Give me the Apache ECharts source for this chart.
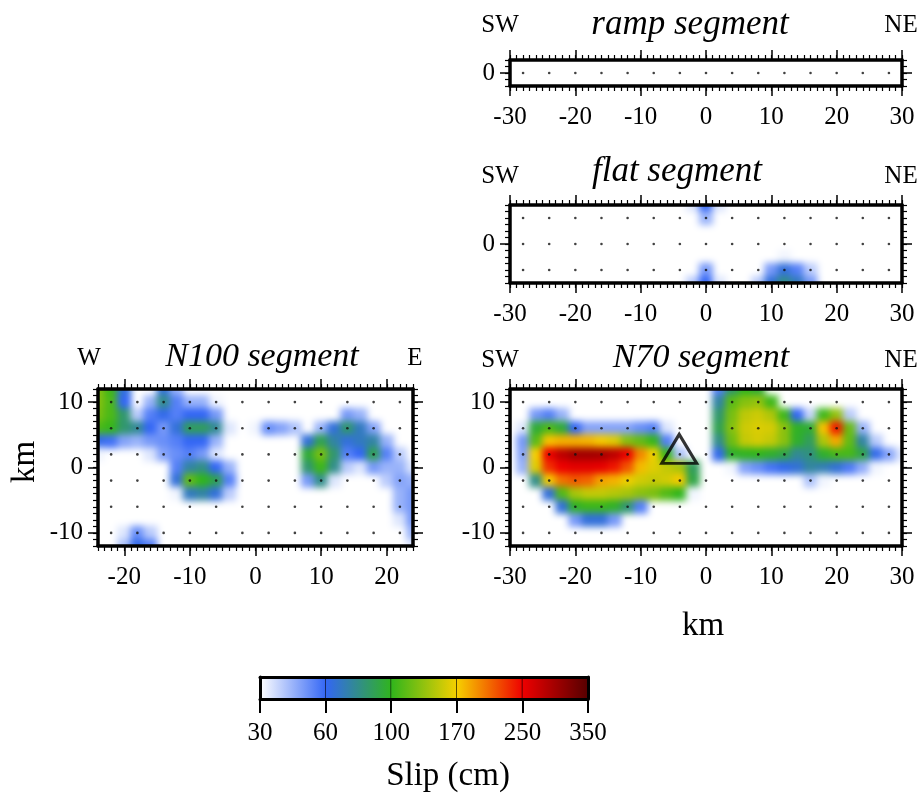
<!DOCTYPE html>
<html><head><meta charset="utf-8">
<script src="https://cdn.jsdelivr.net/npm/echarts@6/dist/echarts.min.js"></script>
<style>html,body{margin:0;padding:0;background:#fff}#c{width:920px;height:797px}</style>
</head><body><div id="c"></div>
<script>
// ---------------- DATA (slip in cm on a 2 km grid) ----------------
const levelValues = [30, 60, 100, 170, 250, 350];
const levelColors = ['#ffffff', '#3366f5', '#30b51c', '#f6d000', '#ee0000', '#550000'];
const colorTickLabels = ['30', '60', '100', '170', '250', '350'];

const gridX60 = [-30,-28,-26,-24,-22,-20,-18,-16,-14,-12,-10,-8,-6,-4,-2,0,2,4,6,8,10,12,14,16,18,20,22,24,26,28,30];
const gridX48 = [-24,-22,-20,-18,-16,-14,-12,-10,-8,-6,-4,-2,0,2,4,6,8,10,12,14,16,18,20,22,24];
const gridY24 = [12,10,8,6,4,2,0,-2,-4,-6,-8,-10,-12];
const gridY12 = [6,4,2,0,-2,-4,-6];
const gridY4 = [2,0,-2];

const rampSlip = [
  [0,0,0,0,0,0,0,0,0,0,0,0,0,0,0,0,0,0,0,0,0,0,0,0,0,0,0,0,0,0,0],
  [0,0,0,0,0,0,0,0,0,0,0,0,0,0,0,0,0,0,0,0,0,0,0,0,0,0,0,0,0,0,0],
  [0,0,0,0,0,0,0,0,0,0,0,0,0,0,0,0,0,0,0,0,0,0,0,0,0,0,0,0,0,0,0]
];
const flatSlip = [
  [0,0,0,0,0,0,0,0,0,0,0,0,0,0,35,60,35,0,0,0,0,0,0,0,0,0,0,0,0,0,0],
  [0,0,0,0,0,0,0,0,0,0,0,0,0,0,15,45,15,0,0,0,0,0,0,0,0,0,0,0,0,0,0],
  [0,0,0,0,0,0,0,0,0,0,0,0,0,0,0,10,0,0,0,0,0,0,0,0,0,0,0,0,0,0,0],
  [0,0,0,0,0,0,0,0,0,0,0,0,0,0,0,0,0,0,0,0,0,0,0,0,0,0,0,0,0,0,0],
  [0,0,0,0,0,0,0,0,0,0,0,0,0,0,0,12,0,0,0,0,18,32,22,0,0,0,0,0,0,0,0],
  [0,0,0,0,0,0,0,0,0,0,0,0,0,0,25,50,25,0,0,20,50,65,55,40,12,0,0,0,0,0,0],
  [0,0,0,0,0,0,0,0,0,0,0,0,0,20,40,60,35,0,8,40,65,80,70,50,30,0,0,0,0,0,0]
];
const n70Slip = [
  [0,0,0,0,0,0,0,0,0,0,0,0,0,0,0,15,55,85,100,95,30,0,0,0,0,0,0,0,0,0,0],
  [0,0,10,18,8,0,0,0,0,0,0,0,0,0,0,20,75,115,130,135,105,30,15,15,28,25,10,0,0,0,0],
  [0,20,50,55,45,20,12,12,12,12,15,18,12,0,0,25,85,125,150,155,145,105,60,38,105,135,40,0,0,0,0],
  [0,35,95,110,95,60,48,48,48,48,52,55,35,8,0,25,90,130,155,160,158,132,98,95,175,240,120,45,5,0,0],
  [0,50,115,175,182,182,180,172,162,130,118,102,55,18,0,18,80,122,152,158,152,132,97,88,145,185,118,75,40,8,0],
  [8,48,170,252,282,300,300,297,282,252,198,168,102,42,12,18,62,97,99,100,97,92,78,82,97,108,108,92,62,48,35],
  [0,45,162,232,250,257,257,254,242,218,178,162,152,142,88,18,15,32,48,52,57,62,66,76,72,66,56,46,32,18,8],
  [0,15,80,172,206,216,212,188,182,167,157,152,157,172,92,22,0,0,0,0,0,8,28,42,32,18,0,0,0,0,0],
  [0,0,28,65,112,142,152,152,147,142,132,127,112,100,32,0,0,0,0,0,0,0,0,12,0,0,0,0,0,0,0],
  [0,0,0,22,65,98,104,104,98,84,55,25,12,0,0,0,0,0,0,0,0,0,0,0,0,0,0,0,0,0,0],
  [0,0,0,0,25,50,65,65,50,25,0,0,0,0,0,0,0,0,0,0,0,0,0,0,0,0,0,0,0,0,0],
  [0,0,0,0,0,5,15,12,5,0,0,0,0,0,0,0,0,0,0,0,0,0,0,0,0,0,0,0,0,0,0],
  [0,0,0,0,0,0,0,0,0,0,0,0,0,0,0,0,0,0,0,0,0,0,0,0,0,0,0,0,0,0,0]
];
const n100Slip = [
  [130,105,65,10,22,65,45,28,0,0,0,0,0,0,0,0,0,0,0,0,0,0,0,0,0],
  [130,110,60,18,45,80,55,45,45,32,8,0,0,0,0,0,0,0,0,12,12,0,0,0,0],
  [125,110,85,40,55,62,55,60,60,50,28,0,0,18,18,0,0,12,28,50,45,22,0,0,0],
  [110,102,85,78,60,50,65,88,88,78,35,0,32,52,48,42,28,45,65,85,70,48,28,8,0],
  [62,58,48,45,50,52,55,60,60,45,28,0,0,0,8,22,65,90,75,65,70,75,45,18,0],
  [32,28,25,25,35,48,52,55,50,35,12,0,0,0,0,22,95,125,85,55,60,90,55,40,25],
  [0,0,0,0,0,22,55,75,80,60,45,22,0,0,0,22,85,105,80,40,35,50,45,45,35],
  [0,0,0,0,0,18,65,118,100,90,55,28,0,0,0,0,50,80,35,8,0,18,40,48,45],
  [0,0,0,0,0,0,32,70,75,65,40,8,0,0,0,0,12,12,0,0,0,0,22,45,50],
  [0,0,0,0,0,0,0,18,22,18,0,0,0,0,0,0,0,0,0,0,0,0,8,45,50],
  [0,0,5,20,15,0,0,0,0,0,0,0,0,0,0,0,0,0,0,0,0,0,0,35,50],
  [0,5,35,52,40,8,0,0,0,0,0,0,0,0,0,0,0,0,0,0,0,0,0,15,45],
  [0,10,42,62,55,15,0,0,0,0,0,0,0,0,0,0,0,0,0,0,0,0,0,0,35]
];
// subfault nodes (black dots)
const nodeX60 = [-28,-24,-20,-16,-12,-8,-4,0,4,8,12,16,20,24,28];
const nodeX48 = [-22,-18,-14,-10,-6,-2,2,6,10,14,18,22];
const nodeY24 = [10,6,2,-2,-6,-10];
const nodeY12 = [4,0,-4];
const nodeY4 = [0];
// triangle marker on N70 segment
const markX = [-4.1];
const markY = [2.85];

// ---------------- helpers ----------------
function hexToRgb(h){return [parseInt(h.slice(1,3),16),parseInt(h.slice(3,5),16),parseInt(h.slice(5,7),16)];}
const levelRgb = levelColors.map(hexToRgb);
function slipColor(v){
  if (v <= levelValues[0]) return '#ffffff';
  for (let i = 0; i < levelValues.length - 1; i++) {
    if (v <= levelValues[i+1]) {
      const t = (v - levelValues[i]) / (levelValues[i+1] - levelValues[i]);
      const a = levelRgb[i], b = levelRgb[i+1];
      return 'rgb(' + a.map((c,k)=>Math.round(c + (b[k]-c)*t)).join(',') + ')';
    }
  }
  return levelColors[levelColors.length-1];
}
function toCells(rows, xs, ys){
  const out = [];
  rows.forEach((row, j) => row.forEach((v, i) => out.push([xs[i], ys[j], v])));
  return out;
}
function toNodes(xs, ys){
  const out = [];
  ys.forEach(y => xs.forEach(x => out.push([x, y])));
  return out;
}

const FONT = 'Liberation Serif';
const panels = [
  {slip: rampSlip, xs: gridX60, ys: gridY4, nx: nodeX60, ny: nodeY4, xr:[-30,30], yr:[-2,2], xMaj:[-30,-20,-10,0,10,20,30], yMaj:[0], left:510, top:60, width:392, height:26},
  {slip: flatSlip, xs: gridX60, ys: gridY12, nx: nodeX60, ny: nodeY12, xr:[-30,30], yr:[-6,6], xMaj:[-30,-20,-10,0,10,20,30], yMaj:[0], left:510, top:205, width:392, height:78},
  {slip: n100Slip, xs: gridX48, ys: gridY24, nx: nodeX48, ny: nodeY24, xr:[-24,24], yr:[-12,12], xMaj:[-20,-10,0,10,20], yMaj:[-10,0,10], left:98, top:389, width:315, height:157},
  {slip: n70Slip, xs: gridX60, ys: gridY24, nx: nodeX60, ny: nodeY24, xr:[-30,30], yr:[-12,12], xMaj:[-30,-20,-10,0,10,20,30], yMaj:[-10,0,10], left:510, top:389, width:392, height:157}
];

const grids = [], xAxes = [], yAxes = [], series = [];
function makeAxes(dim, gi, range, majors){
  const sides = dim === 'x' ? ['bottom','top'] : ['left','right'];
  const out = [];
  sides.forEach((pos, si) => {
    out.push({type:'value', gridIndex:gi, position:pos, min:range[0], max:range[1], interval:1, zlevel:1,
      axisLine:{show:true, onZero:false, lineStyle:{color:'#000', width:3.5}},
      axisTick:{show:true, inside:false, length:5, lineStyle:{color:'#000', width:1.2}},
      axisLabel:{show:false}, splitLine:{show:false}, z:6});
    out.push({type:'value', gridIndex:gi, position:pos, min:range[0], max:range[1], zlevel:1,
      axisLine:{show:false, onZero:false},
      axisTick:{show:true, inside:false, length:10, customValues:majors, lineStyle:{color:'#000', width:1.5}},
      axisLabel:{show: si === 0, customValues:majors, margin: dim === 'x' ? 19 : 15,
        fontFamily:FONT, fontSize:25, color:'#000', formatter: v => String(v)},
      splitLine:{show:false}, z:6});
  });
  return out;
}

function makeCellRenderer(p){
  return function(params, api){
    const x = api.value(0), y = api.value(1), v = api.value(2);
    if (!(v > levelValues[0])) return null;
    // cells on the frame are stretched outward so the soft edge stays inside the frame
    const x0 = x === p.xr[0] ? x - 3 : x - 1;
    const x1 = x === p.xr[1] ? x + 3 : x + 1;
    const y1 = y === p.yr[1] ? y + 3 : y + 1;
    const y0 = y === p.yr[0] ? y - 3 : y - 1;
    const a = api.coord([x0, y1]), b = api.coord([x1, y0]);
    return {type:'rect', shape:{x:a[0]-0.5, y:a[1]-0.5, width:b[0]-a[0]+1, height:b[1]-a[1]+1},
      style:{fill: slipColor(v)}};
  };
}

panels.forEach((p, gi) => {
  grids.push({left:p.left, top:p.top, width:p.width, height:p.height, containLabel:false, outerBoundsMode:'none', zlevel:1});
  const xi = xAxes.length, yi = yAxes.length;
  xAxes.push(...makeAxes('x', gi, p.xr, p.xMaj));
  yAxes.push(...makeAxes('y', gi, p.yr, p.yMaj));
  series.push({type:'custom', coordinateSystem:'cartesian2d', xAxisIndex:xi, yAxisIndex:yi, zlevel:0, clip:false,
    renderItem: makeCellRenderer(p), data: toCells(p.slip, p.xs, p.ys), z:1, silent:true});
  series.push({type:'scatter', xAxisIndex:xi, yAxisIndex:yi, data: toNodes(p.nx, p.ny), zlevel:1,
    symbol:'circle', symbolSize:2.6, itemStyle:{color:'#111'}, z:3, silent:true});
  if (gi === 3) {
    series.push({type:'scatter', xAxisIndex:xi, yAxisIndex:yi, data: markX.map((x,i)=>[x, markY[i]]), zlevel:1,
      symbol:'triangle', symbolSize:[35,29],
      itemStyle:{color:'rgba(0,0,0,0)', borderColor:'#000', borderWidth:3}, z:4, silent:true});
  }
});

// ---- colour bar ----
const cbGi = grids.length;
grids.push({left:260, top:677, width:328, height:22, containLabel:false, outerBoundsMode:'none', zlevel:1});
const cbXi = xAxes.length, cbYi = yAxes.length;
xAxes.push({type:'value', gridIndex:cbGi, position:'bottom', min:0, max:levelValues.length-1, interval:1, zlevel:1,
  axisLine:{show:true, onZero:false, lineStyle:{color:'#000', width:3}},
  axisTick:{show:true, inside:false, length:14, lineStyle:{color:'#000', width:2}},
  axisLabel:{show:true, margin:22, fontFamily:FONT, fontSize:25, color:'#000', formatter: v => colorTickLabels[v]},
  splitLine:{show:false}, z:6});
xAxes.push({type:'value', gridIndex:cbGi, position:'top', min:0, max:levelValues.length-1, zlevel:1,
  axisLine:{show:true, onZero:false, lineStyle:{color:'#000', width:3}}, axisTick:{show:false}, axisLabel:{show:false}, splitLine:{show:false}, z:6});
yAxes.push({type:'value', gridIndex:cbGi, position:'left', min:0, max:1, zlevel:1,
  axisLine:{show:true, onZero:false, lineStyle:{color:'#000', width:3}}, axisTick:{show:false}, axisLabel:{show:false}, splitLine:{show:false}, z:6});
yAxes.push({type:'value', gridIndex:cbGi, position:'right', min:0, max:1, zlevel:1,
  axisLine:{show:true, onZero:false, lineStyle:{color:'#000', width:3}}, axisTick:{show:false}, axisLabel:{show:false}, splitLine:{show:false}, z:6});
series.push({type:'custom', coordinateSystem:'cartesian2d', xAxisIndex:cbXi, yAxisIndex:cbYi, silent:true, z:2, zlevel:1,
  data: levelValues.slice(0, -1).map((v, i) => [i, i + 1]),
  renderItem: (params, api) => {
    const i0 = api.value(0), i1 = api.value(1);
    const a = api.coord([i0, 1]), b = api.coord([i1, 0]);
    return {type:'group', children:[
      {type:'rect', shape:{x:a[0], y:a[1], width:b[0]-a[0]+0.5, height:b[1]-a[1]},
       style:{fill: new echarts.graphic.LinearGradient(0,0,1,0,[{offset:0,color:levelColors[i0]},{offset:1,color:levelColors[i1]}])}},
      {type:'line', shape:{x1:b[0], y1:a[1], x2:b[0], y2:b[1]}, style:{stroke:'#000', lineWidth:1.2}}
    ]};
  }});

// ---- texts ----
function txt(x, y, s, size, italic, rot){
  return {type:'text', x:x, y:y, rotation: rot || 0, z:10, zlevel:1,
    style:{text:s, fontFamily:FONT, fontSize:size, fontStyle: italic ? 'italic' : 'normal', fill:'#000', align:'center', verticalAlign:'middle'}};
}
const graphic = [
  txt(500, 25, 'SW', 25), txt(690, 25, 'ramp segment', 35, true), txt(901, 25, 'NE', 25),
  txt(500, 176, 'SW', 25), txt(677, 172, 'flat segment', 35, true), txt(901, 176, 'NE', 25),
  txt(500, 360, 'SW', 25), txt(701, 358, 'N70 segment', 34, true), txt(901, 360, 'NE', 25),
  txt(89, 358, 'W', 25), txt(262, 357, 'N100 segment', 34, true), txt(415, 358, 'E', 25),
  txt(25, 462, 'km', 33, false, Math.PI/2),
  txt(703, 626, 'km', 33),
  txt(448, 776, 'Slip (cm)', 33)
];

const chart = echarts.init(document.getElementById('c'), null, {renderer:'canvas'});
chart.setOption({animation:false, grid:grids, xAxis:xAxes, yAxis:yAxes, series:series, graphic:graphic});

// soften the slip field layer (zlevel 0) and keep it inside the panel frames
function softenField(){
  const cv = document.querySelector('#c canvas[data-zr-dom-id="zr_0"]');
  if (!cv) return;
  const clip = panels.map(p => 'M' + p.left + ',' + p.top + 'h' + p.width + 'v' + p.height + 'h' + (-p.width) + 'z').join(' ');
  cv.style.background = '#fff';
  cv.style.filter = 'blur(3.6px)';
  cv.style.clipPath = "path('" + clip + "')";
}
softenField();
chart.on('finished', softenField);
</script></body></html>
